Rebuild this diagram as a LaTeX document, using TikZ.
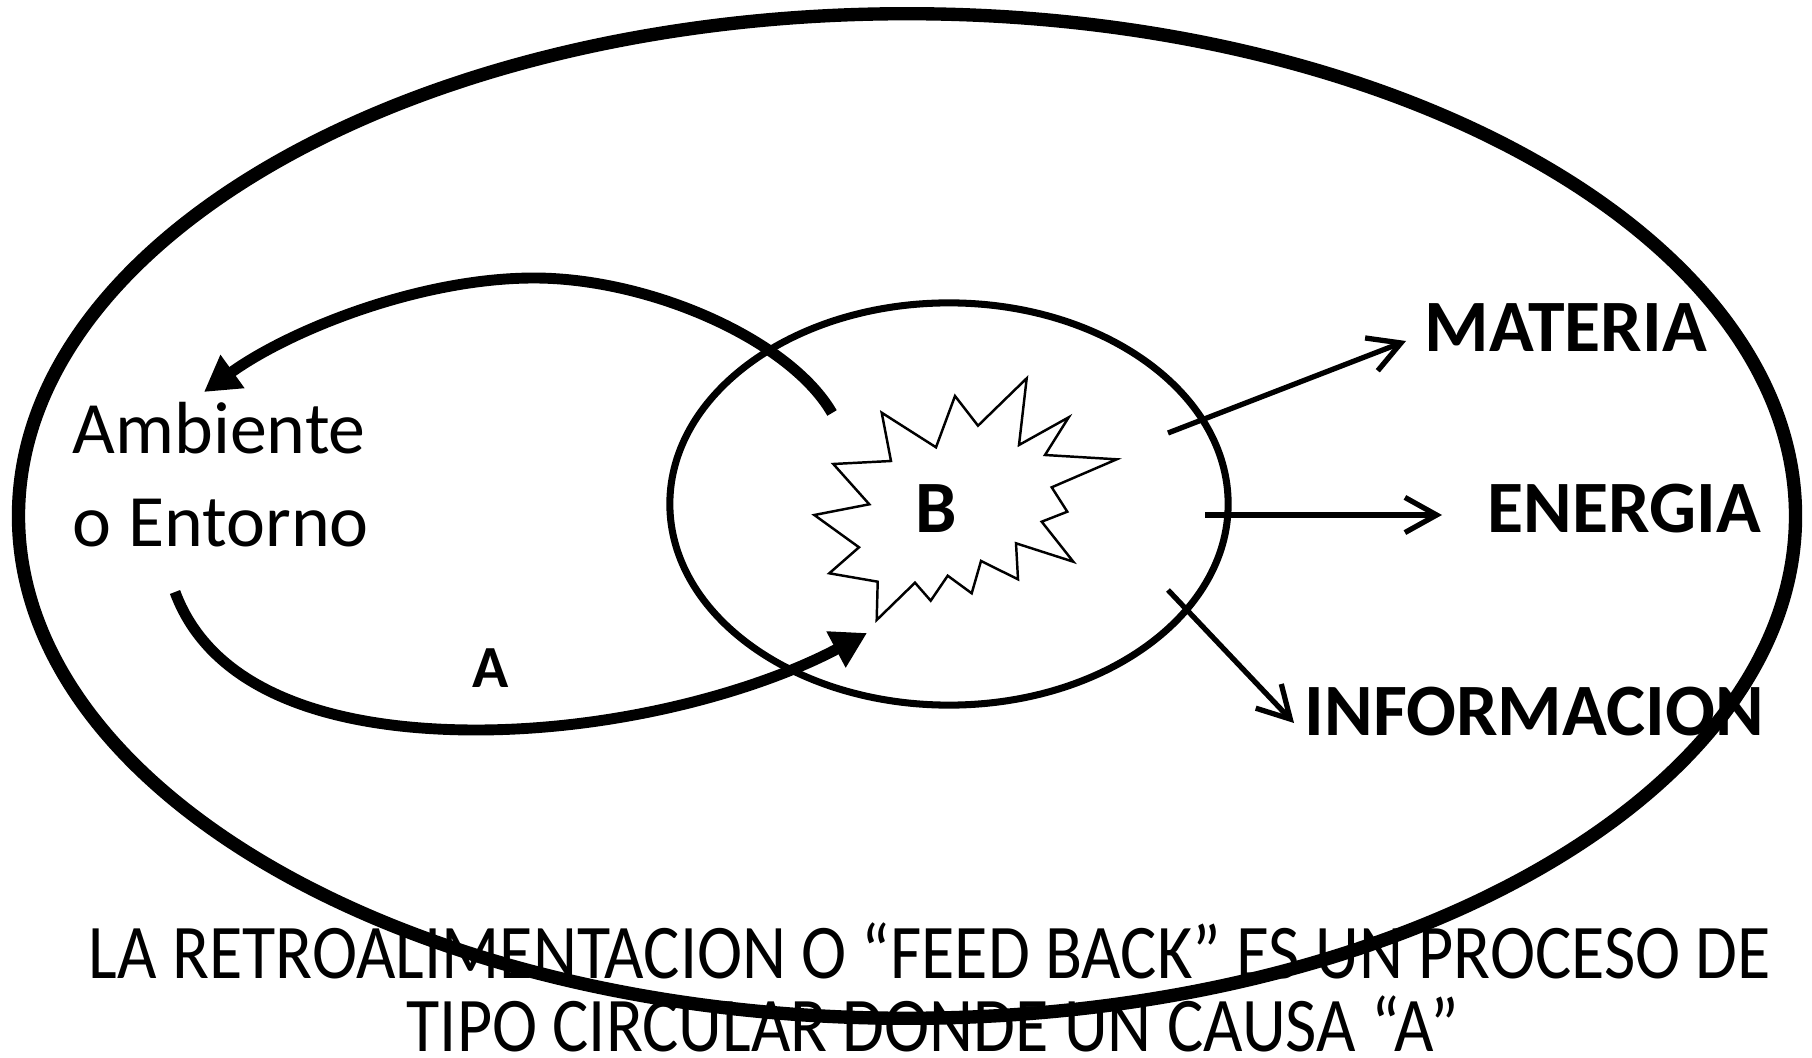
\documentclass[tikz,border=0pt]{standalone}
\usepackage{fontspec}
\setmainfont{Carlito}
\usetikzlibrary{arrows.meta}

\tikzset{
  rim/.style={line width=3.8pt},
  core/.style={line width=2pt},
  burst/.style={line width=0.7pt, fill=white, line join=miter},
  loopline/.style={line width=3.1pt, -{Triangle[length=10pt,width=11pt]}},
  outarrow/.style={line width=1.5pt, -{Straight Barb[length=9pt,width=10pt]}},
  biglabel/.style={font=\bfseries\fontsize{21}{25}\selectfont, inner sep=0pt, anchor=base west},
  caption/.style={font=\fontsize{22}{26}\selectfont, inner sep=0pt, anchor=base},
}

\begin{document}
\begin{tikzpicture}[x=0.01cm, y=-0.01cm]
\useasboundingbox (0,0) rectangle (1812,1058);

% environment and system
\draw[rim] (907,516) ellipse [x radius=8.88cm, y radius=5.02cm];
\draw[core] (949,504) ellipse [x radius=2.79cm, y radius=2.01cm];

% the burst round B
\draw[burst] (881.7,412.7)
  \foreach \p in {(936,447.3),(955,396),(978,425.7),(1026.7,378.3),(1019,445),
    (1068.7,417.3),(1045,455),(1116.7,459.3),(1051.7,487.3),(1067.3,511.7),
    (1041.7,521.7),(1073.3,561.7),(1016,543.3),(1018,579.3),(981,561),
    (971.7,593.3),(947.7,575.7),(930.7,600.7),(915,582.7),(876.7,620),
    (877.7,581.7),(829.3,573.3),(859,547.3),(814.3,515),(869.3,504.3),
    (833.3,464),(891,461)} {-- \p} -- cycle;
\node[font=\bfseries\fontsize{21}{25}\selectfont, inner sep=0pt, anchor=base] (labelB) at (936,533) {B};

\node[align=left, font=\fontsize{21}{26.5}\selectfont, inner sep=0pt, anchor=base west] (ambiente) at (72,547) {Ambiente\\o Entorno};
\node[font=\bfseries\fontsize{17}{20}\selectfont, inner sep=0pt, anchor=base] (labelA) at (491,687) {A};

% feed back loop
\coordinate (backfrom) at (832,413);
\coordinate (backtop) at (534,278);
\coordinate (backto) at (204,392);
\coordinate (causefrom) at (175,592);
\coordinate (causelow) at (476,730);
\coordinate (causeto) at (867,633);
\draw[loopline] (backfrom) .. controls (790,340) and (650,278) .. (backtop)
  .. controls (420,278) and (290,330) .. (backto);
\draw[loopline] (causefrom) .. controls (215,700) and (350,730) .. (causelow)
  .. controls (620,730) and (760,690) .. (causeto);

% outputs
\node[biglabel] (materia) at (1424,352) {MATERIA};
\node[biglabel] (energia) at (1487,532) {ENERGIA};
\node[biglabel] (informacion) at (1304,735) {INFORMACION};
\coordinate (matfrom) at (1168,433);
\coordinate (matto) at (1406,341);
\coordinate (enefrom) at (1205,515);
\coordinate (eneto) at (1442,515);
\coordinate (inffrom) at (1168,590);
\coordinate (infto) at (1294,723);
\draw[outarrow] (matfrom) -- (matto);
\draw[outarrow] (enefrom) -- (eneto);
\draw[outarrow] (inffrom) -- (infto);

\node[caption] (captop) at (930,978) {\scalebox{0.88}[1]{LA RETROALIMENTACION O “FEED BACK” ES UN PROCESO DE}};
\node[caption] (capbottom) at (933,1051) {\scalebox{0.88}[1]{TIPO CIRCULAR DONDE UN CAUSA “A”}};
\end{tikzpicture}
\end{document}
